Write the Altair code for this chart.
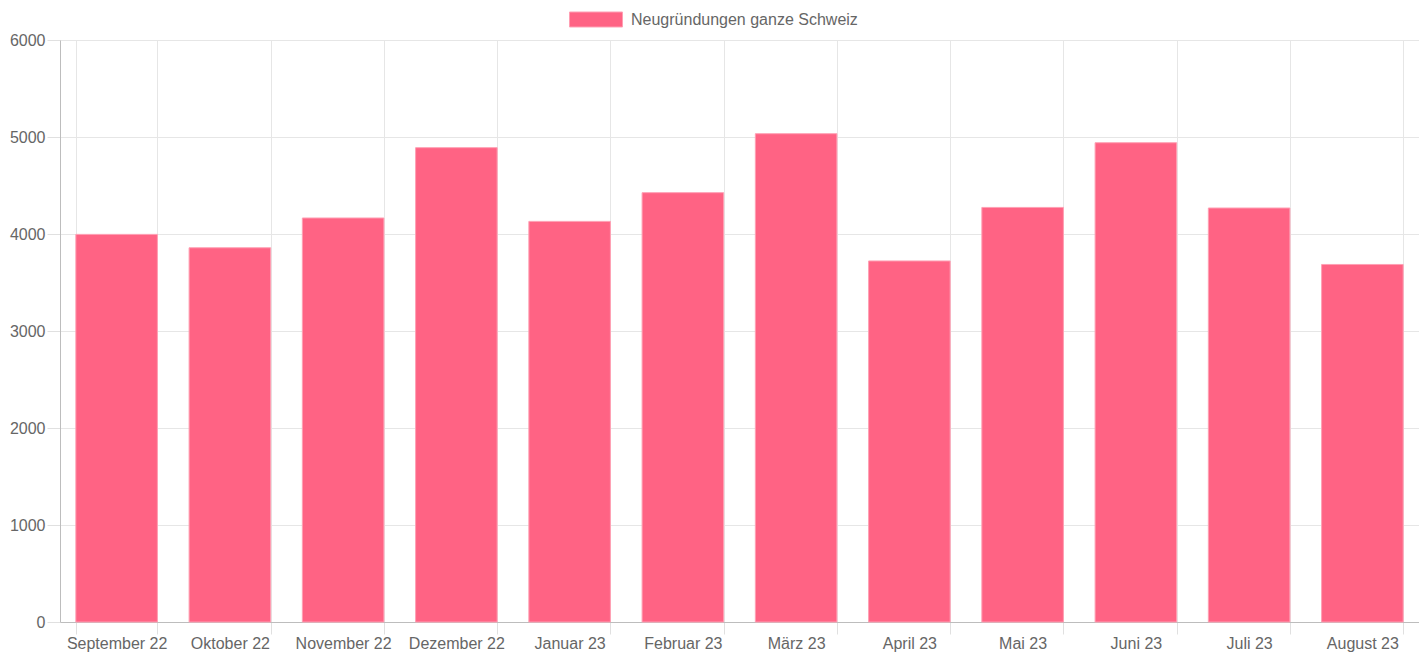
import altair as alt
import pandas as pd

months = ["September 22", "Oktober 22", "November 22", "Dezember 22", "Januar 23",
          "Februar 23", "März 23", "April 23", "Mai 23", "Juni 23", "Juli 23", "August 23"]
values = [3996, 3858, 4165, 4890, 4130, 4426, 5034, 3722, 4274, 4941, 4268, 3686]
series = ["Neugründungen ganze Schweiz"]
y_ticks = [0, 1000, 2000, 3000, 4000, 5000, 6000]

df = pd.DataFrame({"Monat": months, "Wert": values, "Serie": series * len(months)})

FONT = "Liberation Sans, Arial, Helvetica, sans-serif"
PINK = "#ff6384"

chart = alt.Chart(df).mark_bar(
    fill=PINK, stroke="#ff9fb3", strokeWidth=1
).encode(
    x=alt.X(
        "Monat:N", sort=months, title=None,
        scale=alt.Scale(paddingInner=0.28, paddingOuter=0.14),
        axis=alt.Axis(
            labelAngle=0, tickBand="extent", grid=True, gridColor="#e6e6e6",
            domainColor="#bdbdbd", tickColor="#e0e0e0", tickSize=12,
            labelPadding=1, labelColor="#666666", labelFontSize=16, labelFont=FONT,
        ),
    ),
    y=alt.Y(
        "Wert:Q", title=None,
        scale=alt.Scale(domain=[0, 6000], nice=False),
        axis=alt.Axis(
            values=y_ticks, format="d", grid=True, gridColor="#e6e6e6",
            domainColor="#bdbdbd", tickColor="#e0e0e0", tickSize=13,
            labelPadding=2, labelColor="#666666", labelFontSize=16, labelFont=FONT,
        ),
    ),
    color=alt.Color(
        "Serie:N",
        scale=alt.Scale(domain=series, range=[PINK]),
        legend=alt.Legend(
            title=None, orient="none", legendX=509, legendY=-47.5,
            symbolType="M-1,-0.283L1,-0.283L1,0.283L-1,0.283Z",
            symbolSize=2809, symbolStrokeColor="#ff9fb3", symbolStrokeWidth=1,
            symbolOpacity=1, labelOffset=8, labelLimit=600,
            labelColor="#666666", labelFontSize=16, labelFont=FONT,
            padding=0,
        ),
    ),
).properties(
    width=1359, height=582,
    autosize=alt.AutoSizeParams(type="none"),
    padding={"left": 52, "top": 32, "right": 0, "bottom": 30},
).configure_view(stroke="#e6e6e6")

chart.save("out.html", embed_options={"renderer": "svg", "actions": False})
